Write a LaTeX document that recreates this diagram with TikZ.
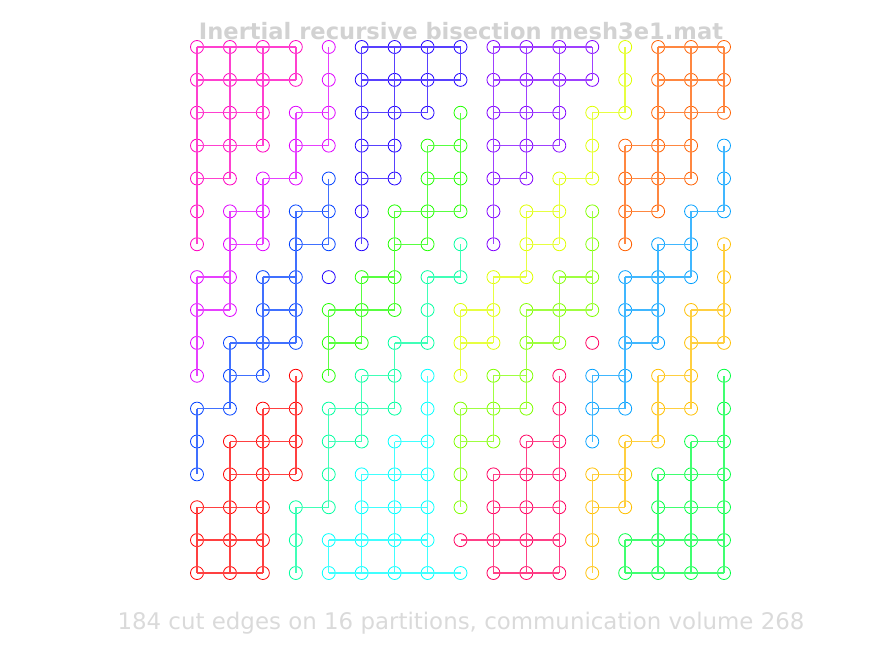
\documentclass[tikz,border=0pt]{standalone}
\usepackage{fontspec}
\setmainfont{DejaVu Sans}
\usepackage{tikz}

% partition colours (hsv wheel, 16 steps)
\definecolor{partR}{rgb}{1,0,0}
\definecolor{partO}{rgb}{1,0.375,0}
\definecolor{partG}{rgb}{1,0.75,0}
\definecolor{partY}{rgb}{0.875,1,0}
\definecolor{partL}{rgb}{0.5,1,0}
\definecolor{partN}{rgb}{0.125,1,0}
\definecolor{partE}{rgb}{0,1,0.25}
\definecolor{partA}{rgb}{0,1,0.625}
\definecolor{partC}{rgb}{0,1,1}
\definecolor{partS}{rgb}{0,0.625,1}
\definecolor{partB}{rgb}{0,0.25,1}
\definecolor{partV}{rgb}{0.125,0,1}
\definecolor{partP}{rgb}{0.5,0,1}
\definecolor{partM}{rgb}{0.875,0,1}
\definecolor{partK}{rgb}{1,0,0.75}
\definecolor{partX}{rgb}{1,0,0.375}
\definecolor{titlegray}{RGB}{210,210,210}
\definecolor{footgray}{RGB}{218,218,218}

\tikzset{
  vtx/.style={circle, draw=part#1, line width=0.8pt, minimum size=13pt, inner sep=0pt},
  meshedge/.style={draw=part#1!75!white, line width=1.4pt},
}

\begin{document}
\begin{tikzpicture}[x=1pt,y=-1pt]
\useasboundingbox (0,0) rectangle (891,645);
% Title
\node[font=\bfseries\fontsize{22.6}{25}\selectfont, text=titlegray] (title) at (461,31) {Inertial recursive bisection mesh3e1.mat};
% Mesh vertices, one list of partition labels per grid row
\foreach \row [count=\j from 0] in {
  {K,K,K,K,M,V,V,V,V,P,P,P,P,Y,O,O,O},
  {K,K,K,K,M,V,V,V,V,P,P,P,P,Y,O,O,O},
  {K,K,K,M,M,V,V,V,N,P,P,P,Y,Y,O,O,O},
  {K,K,K,M,M,V,V,N,N,P,P,P,Y,O,O,O,S},
  {K,K,M,M,B,V,V,N,N,P,P,Y,Y,O,O,O,S},
  {K,M,M,B,B,V,N,N,N,P,Y,Y,L,O,O,S,S},
  {K,M,M,B,B,V,N,N,A,P,Y,Y,L,O,S,S,G},
  {M,M,B,B,V,N,N,A,A,Y,Y,L,L,S,S,S,G},
  {M,M,B,B,N,N,N,A,Y,Y,L,L,L,S,S,G,G},
  {M,B,B,B,N,N,A,A,Y,Y,L,L,X,S,S,G,G},
  {M,B,B,R,N,A,A,C,Y,L,L,X,S,S,G,G,E},
  {B,B,R,R,A,A,A,C,L,L,L,X,S,S,G,G,E},
  {B,R,R,R,A,A,C,C,L,L,X,X,S,G,G,E,E},
  {B,R,R,R,A,C,C,C,L,X,X,X,G,G,E,E,E},
  {R,R,R,A,A,C,C,C,L,X,X,X,G,G,E,E,E},
  {R,R,R,A,C,C,C,C,X,X,X,X,G,E,E,E,E},
  {R,R,R,A,C,C,C,C,C,X,X,X,G,E,E,E,E}}{
  \foreach \c [count=\i from 0] in \row {
    \node[vtx=\c] (n-\i-\j) at ({197+32.9375*\i},{47+32.875*\j}) {};
    \expandafter\xdef\csname pt-\i-\j\endcsname{\c}
  }
}
% Edges kept inside a partition
\foreach \j in {0,...,16}{
  \foreach \i in {0,...,16}{
    \edef\here{\csname pt-\i-\j\endcsname}
    \pgfmathtruncatemacro\ii{\i+1}
    \pgfmathtruncatemacro\jj{\j+1}
    \ifnum\i<16
      \edef\there{\csname pt-\ii-\j\endcsname}
      \ifx\here\there \draw[meshedge=\here] (n-\i-\j.center) -- (n-\ii-\j.center); \fi
    \fi
    \ifnum\j<16
      \edef\there{\csname pt-\i-\jj\endcsname}
      \ifx\here\there \draw[meshedge=\here] (n-\i-\j.center) -- (n-\i-\jj.center); \fi
    \fi
  }
}
% Footer
\node[font=\fontsize{22.9}{26}\selectfont, text=footgray] (foot) at (461,623) {184 cut edges on 16 partitions, communication volume 268};
\end{tikzpicture}
\end{document}
